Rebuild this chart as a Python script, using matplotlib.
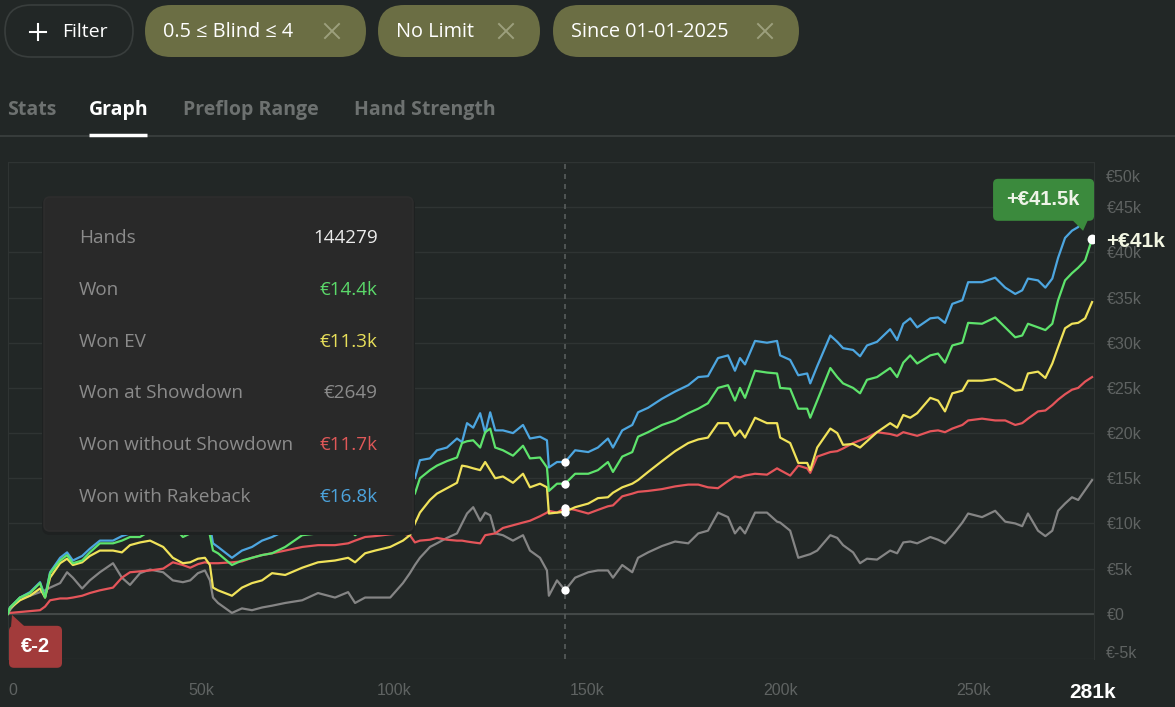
import numpy as np
import matplotlib.pyplot as plt
from matplotlib.patches import FancyBboxPatch, Polygon
from matplotlib import transforms

plt.rcParams['font.family'] = ['Open Sans', 'DejaVu Sans']

# hands played (thousands) and cumulative results (thousands of euro)
hands_k = [
    0, 0.5, 3.1, 5.7, 8.3, 9.6, 10.9, 13.5, 15.3, 16.8,
    19.2, 21.2, 23.8, 27.2, 29.5, 31.6, 34.2, 36.8, 40.2, 42.7,
    45.3, 47.2, 49.2, 51.0, 52.3, 53.1, 54.4, 58.0, 60.6, 63.2,
    65.8, 68.4, 71.8, 76.2, 80.3, 84.7, 88.1, 89.9, 92.5, 95.1,
    99.0, 102.3, 104.1, 105.4, 106.7, 109.3, 111.1, 113.7, 116.3, 117.6,
    118.9, 120.5, 122.3, 123.6, 124.9, 126.2, 128.2, 130.8, 133.4, 135.2,
    137.8, 139.6, 140.1, 142.2, 144.3, 146.9, 150.3, 152.8, 155.4, 156.7,
    159.1, 161.7, 163.2, 165.8, 169.4, 172.8, 176.2, 178.8, 181.3, 183.9,
    186.5, 188.3, 189.6, 190.9, 193.5, 196.6, 199.2, 200.0, 202.6, 204.7,
    207.0, 207.8, 209.6, 213.0, 214.8, 216.3, 218.9, 220.7, 222.5, 225.1,
    228.5, 230.3, 231.9, 233.7, 235.5, 238.9, 240.9, 242.7, 244.6, 247.2,
    248.7, 252.3, 255.7, 258.3, 260.9, 262.7, 264.2, 266.8, 268.7, 270.5,
    272.0, 273.8, 275.6, 277.2, 279.0, 280.8,
]
won_showdown = [
    0.0, 0.4, 1.8, 2.0, 2.4, 2.6, 2.9, 3.4, 4.6, 4.0,
    2.8, 3.7, 4.6, 5.6, 4.0, 3.2, 4.5, 4.9, 4.6, 3.7,
    3.5, 3.7, 4.5, 4.8, 3.7, 1.8, 1.2, 0.1, 0.6, 0.4,
    0.7, 0.9, 1.2, 1.5, 2.3, 1.8, 2.4, 1.2, 1.8, 1.8,
    1.8, 3.4, 4.5, 5.4, 6.2, 7.4, 7.8, 8.4, 8.9, 10.0,
    11.1, 11.8, 10.3, 11.2, 10.9, 8.9, 8.7, 8.1, 8.7, 7.0,
    6.2, 4.8, 2.0, 3.7, 2.6, 4.0, 4.6, 4.8, 4.8, 4.0,
    5.4, 4.6, 6.2, 6.8, 7.5, 8.0, 7.8, 8.9, 9.2, 11.2,
    10.7, 8.9, 9.6, 8.9, 11.2, 11.2, 10.2, 10.1, 9.2, 6.2,
    6.5, 6.6, 7.0, 8.7, 8.4, 7.6, 6.8, 5.6, 6.1, 6.0,
    7.0, 6.7, 7.9, 8.0, 7.8, 8.5, 8.2, 7.8, 8.7, 10.1,
    11.1, 10.7, 11.4, 10.2, 10.0, 9.7, 11.1, 9.2, 8.6, 9.2,
    11.4, 12.2, 12.9, 12.6, 13.7, 14.8,
]
won_no_showdown = [
    0.0, 0.1, 0.2, 0.3, 0.4, 0.8, 1.5, 1.7, 1.7, 1.8,
    2.0, 2.3, 2.6, 2.9, 4.0, 4.6, 4.7, 4.8, 5.0, 5.7,
    5.4, 5.1, 5.5, 5.7, 5.6, 5.6, 5.6, 5.7, 5.8, 6.2,
    6.5, 6.7, 7.0, 7.4, 7.6, 7.6, 7.8, 8.1, 8.5, 8.6,
    8.8, 8.9, 8.7, 7.9, 8.1, 8.2, 8.4, 8.2, 8.1, 8.1,
    8.0, 7.9, 7.8, 8.7, 8.8, 8.9, 9.5, 9.8, 10.1, 10.3,
    10.8, 11.2, 11.4, 11.2, 11.7, 11.5, 11.1, 11.5, 11.9, 12.0,
    13.0, 13.3, 13.5, 13.6, 13.8, 14.1, 14.3, 14.3, 14.0, 13.9,
    14.7, 15.2, 15.1, 15.3, 15.5, 15.4, 16.1, 15.9, 15.3, 16.4,
    16.1, 15.6, 17.4, 17.9, 18.0, 18.3, 18.9, 19.2, 19.5, 20.1,
    19.9, 19.7, 20.1, 19.9, 19.7, 20.2, 20.3, 20.1, 20.5, 20.9,
    21.4, 21.6, 21.4, 21.4, 20.9, 21.1, 21.6, 22.4, 22.5, 23.1,
    23.7, 24.3, 24.8, 25.0, 25.7, 26.2,
]
won_ev = [
    0.0, 0.6, 1.5, 2.0, 2.8, 1.8, 4.0, 5.6, 6.1, 5.4,
    5.7, 6.4, 7.0, 7.0, 6.8, 7.6, 7.9, 8.1, 7.4, 6.2,
    5.6, 5.7, 6.1, 6.2, 5.4, 2.9, 2.6, 2.0, 2.9, 3.4,
    3.7, 4.5, 4.3, 5.1, 5.7, 5.9, 6.2, 5.7, 6.7, 7.0,
    7.4, 8.1, 8.7, 10.0, 11.2, 12.6, 13.3, 13.9, 14.5, 16.4,
    16.3, 16.1, 15.9, 16.8, 15.9, 15.0, 15.2, 14.5, 15.5, 14.0,
    14.4, 14.0, 11.1, 11.2, 11.3, 11.8, 12.2, 12.8, 12.9, 13.4,
    14.0, 14.4, 14.8, 15.7, 16.9, 18.0, 18.9, 19.3, 19.5, 21.1,
    21.1, 19.7, 20.3, 19.5, 21.7, 21.1, 21.1, 19.5, 18.9, 16.7,
    16.7, 15.9, 18.4, 20.5, 20.0, 18.7, 18.8, 18.4, 19.1, 20.1,
    21.1, 20.6, 22.0, 21.7, 22.2, 23.9, 23.6, 22.4, 24.4, 24.7,
    25.8, 25.8, 26.0, 25.4, 24.7, 24.8, 26.6, 26.8, 26.1, 27.7,
    29.5, 31.6, 32.1, 32.2, 32.7, 34.5,
]
won = [
    0.0, 0.7, 1.8, 2.3, 3.4, 1.8, 4.5, 5.9, 6.5, 5.6,
    5.9, 6.8, 7.8, 7.8, 8.1, 8.5, 8.5, 9.2, 9.6, 9.8,
    8.5, 8.9, 9.8, 10.3, 8.7, 7.0, 6.7, 5.4, 5.9, 6.2,
    6.5, 6.7, 7.4, 8.7, 8.9, 9.2, 9.5, 8.7, 9.6, 10.1,
    10.9, 12.0, 12.6, 13.3, 15.0, 15.9, 16.4, 16.9, 17.3, 18.9,
    19.1, 19.2, 18.4, 20.1, 20.5, 18.4, 18.1, 17.5, 18.6, 17.2,
    17.3, 16.2, 13.6, 14.4, 14.4, 15.5, 15.5, 15.9, 16.8, 15.7,
    17.4, 17.9, 19.6, 20.1, 20.9, 21.4, 22.2, 22.7, 23.3, 25.0,
    25.3, 23.6, 25.0, 23.9, 26.9, 26.7, 26.6, 25.0, 24.9, 22.7,
    22.7, 21.7, 23.6, 27.2, 26.2, 25.5, 25.0, 24.4, 25.9, 26.2,
    27.2, 26.2, 27.8, 28.6, 27.7, 28.6, 28.8, 27.8, 29.7, 30.0,
    32.2, 32.1, 32.8, 31.7, 30.6, 30.8, 32.1, 31.7, 31.4, 32.1,
    34.7, 36.9, 37.7, 38.3, 39.1, 41.5,
]
won_rakeback = [
    0.0, 0.7, 1.8, 2.4, 3.5, 1.9, 4.6, 6.2, 6.8, 5.9,
    6.4, 7.2, 8.1, 8.1, 8.6, 8.9, 8.9, 9.8, 10.2, 10.6,
    9.2, 9.8, 10.7, 11.2, 9.8, 7.8, 7.4, 6.2, 7.0, 7.4,
    8.1, 8.5, 9.2, 10.3, 10.8, 11.2, 11.7, 10.9, 11.9, 12.6,
    13.5, 14.3, 14.8, 15.0, 17.0, 17.2, 18.1, 18.4, 19.4, 19.0,
    21.1, 20.6, 22.2, 20.0, 22.3, 20.3, 20.3, 20.0, 20.9, 19.4,
    19.6, 19.2, 16.2, 16.8, 16.8, 18.1, 17.9, 18.4, 19.4, 18.4,
    20.3, 20.9, 22.3, 22.8, 23.8, 24.6, 25.3, 26.2, 26.3, 28.3,
    28.6, 26.9, 28.3, 27.6, 30.2, 30.0, 30.2, 28.6, 28.1, 26.4,
    26.6, 25.5, 27.4, 30.8, 30.1, 29.4, 29.2, 28.5, 29.7, 30.1,
    31.5, 30.3, 32.1, 32.7, 31.7, 32.7, 32.8, 32.2, 34.3, 34.7,
    36.7, 36.7, 37.2, 36.1, 35.4, 35.8, 37.1, 36.9, 36.1, 37.1,
    39.4, 41.6, 42.4, 42.8, 44.0, 45.8,
]

x_ticks_k = [0, 50, 100, 150, 200, 250]
y_ticks_k = [-5, 0, 5, 10, 15, 20, 25, 30, 35, 40, 45, 50]
total_hands_k = 281
hover_hands = 144279

filters = ["0.5 ≤ Blind ≤ 4", "No Limit", "Since 01-01-2025"]
tabs = ["Stats", "Graph", "Preflop Range", "Hand Strength"]
tooltip_rows = [
    ("Hands", "144279"),
    ("Won", "€14.4k"),
    ("Won EV", "€11.3k"),
    ("Won at Showdown", "€2649"),
    ("Won without Showdown", "€11.7k"),
    ("Won with Rakeback", "€16.8k"),
]
start_label = "€-2"
peak_label = "+€41.5k"
end_label = "+€41k"

BG = '#222726'
GRID = '#2f3433'
TICK = '#5f6362'
C_BLUE = '#4da6e0'
C_GREEN = '#5ee36c'
C_YELLOW = '#f0e25a'
C_RED = '#e5555a'
C_GRAY = '#858585'
ARIAL = ['Liberation Sans', 'DejaVu Sans']

W, H = 1175, 707
fig = plt.figure(figsize=(W / 100, H / 100), dpi=100, facecolor=BG)
ax = fig.add_axes([8 / W, 1 - 659 / H, 1086 / W, 497 / H])
ax.set_facecolor(BG)

series = [
    (won_showdown, C_GRAY),
    (won_no_showdown, C_RED),
    (won_ev, C_YELLOW),
    (won_rakeback, C_BLUE),
    (won, C_GREEN),
]
for vals, col in series:
    ax.plot(hands_k, vals, color=col, lw=1.6, solid_joinstyle='round', zorder=3)

ax.set_xlim(0, total_hands_k + 0.3)
ax.set_ylim(y_ticks_k[0], y_ticks_k[-1])

# grid
ax.set_yticks(y_ticks_k)
ax.grid(axis='y', color=GRID, lw=1)
ax.axhline(0, color='#474c4b', lw=1.3, zorder=2)
for s in ['top', 'bottom']:
    ax.spines[s].set_visible(False)
for s in ['left', 'right']:
    ax.spines[s].set_color(GRID)

# y tick labels on the right, end labels nudged inside
ax.yaxis.tick_right()
ylabels = []
for v in y_ticks_k:
    ylabels.append('€0' if v == 0 else f'€{v}k')
ax.set_yticklabels([''] + ylabels[1:-1] + [''], fontfamily=ARIAL)
ax.tick_params(axis='y', length=0, pad=9, labelsize=11.5, labelcolor=TICK)
yt = transforms.blended_transform_factory(ax.transAxes, ax.transData)
ax.text(1.0, y_ticks_k[-1], ylabels[-1], transform=transforms.offset_copy(yt, fig, x=12, y=-16, units='dots'),
        ha='left', va='center', fontsize=11.5, color=TICK, family=ARIAL)
ax.text(1.0, y_ticks_k[0], ylabels[0], transform=transforms.offset_copy(yt, fig, x=12, y=6, units='dots'),
        ha='left', va='center', fontsize=11.5, color=TICK, family=ARIAL)

# x ticks
ax.set_xticks(x_ticks_k + [total_hands_k])
ax.set_xticklabels(['0' if v == 0 else f'{v}k' for v in x_ticks_k] + [f'{total_hands_k}k'], fontfamily=ARIAL)
ax.tick_params(axis='x', length=0, pad=17, labelsize=11.5, labelcolor=TICK)
xl = ax.get_xticklabels()
xl[0].set_ha('left')
xl[-1].set_color('white')
xl[-1].set_fontweight('bold')
xl[-1].set_fontsize(15)

# hover line and markers
hover_k = hover_hands / 1000
hi = int(np.argmin(np.abs(np.array(hands_k) - hover_k)))
ax.axvline(hover_k, color='#585d5c', lw=1.2, ls=(0, (3, 3)), zorder=2)
for vals, col in series:
    ax.scatter([hands_k[hi]], [vals[hi]], s=36, color='white', zorder=6, linewidths=0)
ax.scatter([hands_k[-1]], [won[-1]], s=50, color='white', zorder=6, linewidths=0)

# ---------- UI overlay in pixel coordinates ----------
ui = fig.add_axes([0, 0, 1, 1], zorder=5)
ui.set_xlim(0, W)
ui.set_ylim(H, 0)
ui.axis('off')
ui.patch.set_alpha(0)


def pill(x0, y0, w, h, fc, ec='none', r=None):
    if r is None:
        r = h / 2
    p = FancyBboxPatch((x0, y0), w, h, boxstyle=f"round,pad=0,rounding_size={r}",
                       fc=fc, ec=ec, lw=1.2)
    ui.add_patch(p)


def cross(cx, cy, size, col):
    ui.plot([cx - size, cx + size], [cy - size, cy + size], color=col, lw=1.4)
    ui.plot([cx - size, cx + size], [cy + size, cy - size], color=col, lw=1.4)


# filter chips
pill(5, 5, 128, 52, BG, ec='#393e3d')
ui.plot([30, 46], [32, 32], color='white', lw=1.5)
ui.plot([38, 38], [24, 40], color='white', lw=1.5)
ui.text(62, 32, "Filter", color='white', fontsize=14, va='center', ha='left')

chip_x = [145, 378, 553]
chip_w = [221, 162, 246]
for x0, w, label in zip(chip_x, chip_w, filters):
    pill(x0, 5, w, 52, '#6b6e44')
    ui.text(x0 + 18, 32, label, color='white', fontsize=14.3, va='center', ha='left')
    cross(x0 + w - 34, 31, 7, '#9c9f7c')

# tabs
tab_x = [7, 89, 183, 354]
for x0, label in zip(tab_x, tabs):
    col = 'white' if label == "Graph" else '#6d7170'
    ui.text(x0, 110, label, color=col, fontsize=14, fontweight='bold', va='center', ha='left')
ui.plot([0, W], [136, 136], color='#3a3f3e', lw=1.3)
ui.plot([89, 147], [134.5, 134.5], color='white', lw=2.5, solid_capstyle='butt')

# tooltip (with a soft shadow)
pill(42, 197, 373, 338, '#1e2121', r=8)
pill(44, 197, 369, 334, '#292929', ec='#2d2d2d', r=6)
val_colors = ['#ececec', '#5bd96a', '#e8df5a', '#8b8b8b', '#e05858', '#4ca3dc']
for i, ((lab, val), vc) in enumerate(zip(tooltip_rows, val_colors)):
    y = 238 + 51.8 * i
    ui.text(79, y, lab, color='#8b8b8b', fontsize=13.6, va='center', ha='left')
    ui.text(378, y, val, color=vc, fontsize=13.6, va='center', ha='right')


def to_px(x, y):
    dx, dy = ax.transData.transform((x, y))
    return dx, H - dy


# start label
sx, sy = to_px(hands_k[0], won[0])
pill(sx + 1, sy + 12, 53, 42, '#a23b3b', r=5)
ui.add_patch(Polygon([[sx + 3, sy + 13], [sx + 17, sy + 13], [sx + 4, sy + 1]], closed=True, fc='#a23b3b', ec='none'))
ui.text(sx + 27.5, sy + 33, start_label, color='white', fontsize=14.5, fontweight='bold',
        va='center', ha='center', family=ARIAL)

# end labels
gx, gy = to_px(hands_k[-1], won[-1])
pill(gx - 99, gy - 60, 101, 42, '#3b8a3d', r=5)
ui.add_patch(Polygon([[gx - 20, gy - 19], [gx - 4, gy - 19], [gx - 9, gy - 8]], closed=True, fc='#3b8a3d', ec='none'))
ui.text(gx - 49, gy - 39, peak_label, color='#eef4e8', fontsize=14.5, fontweight='bold',
        va='center', ha='center', family=ARIAL)
ui.text(gx + 14, gy + 3, end_label, color='#f2f6e2', fontsize=15, fontweight='bold',
        va='center', ha='left', family=ARIAL)

fig.savefig('out.png', dpi=100, facecolor=BG)
